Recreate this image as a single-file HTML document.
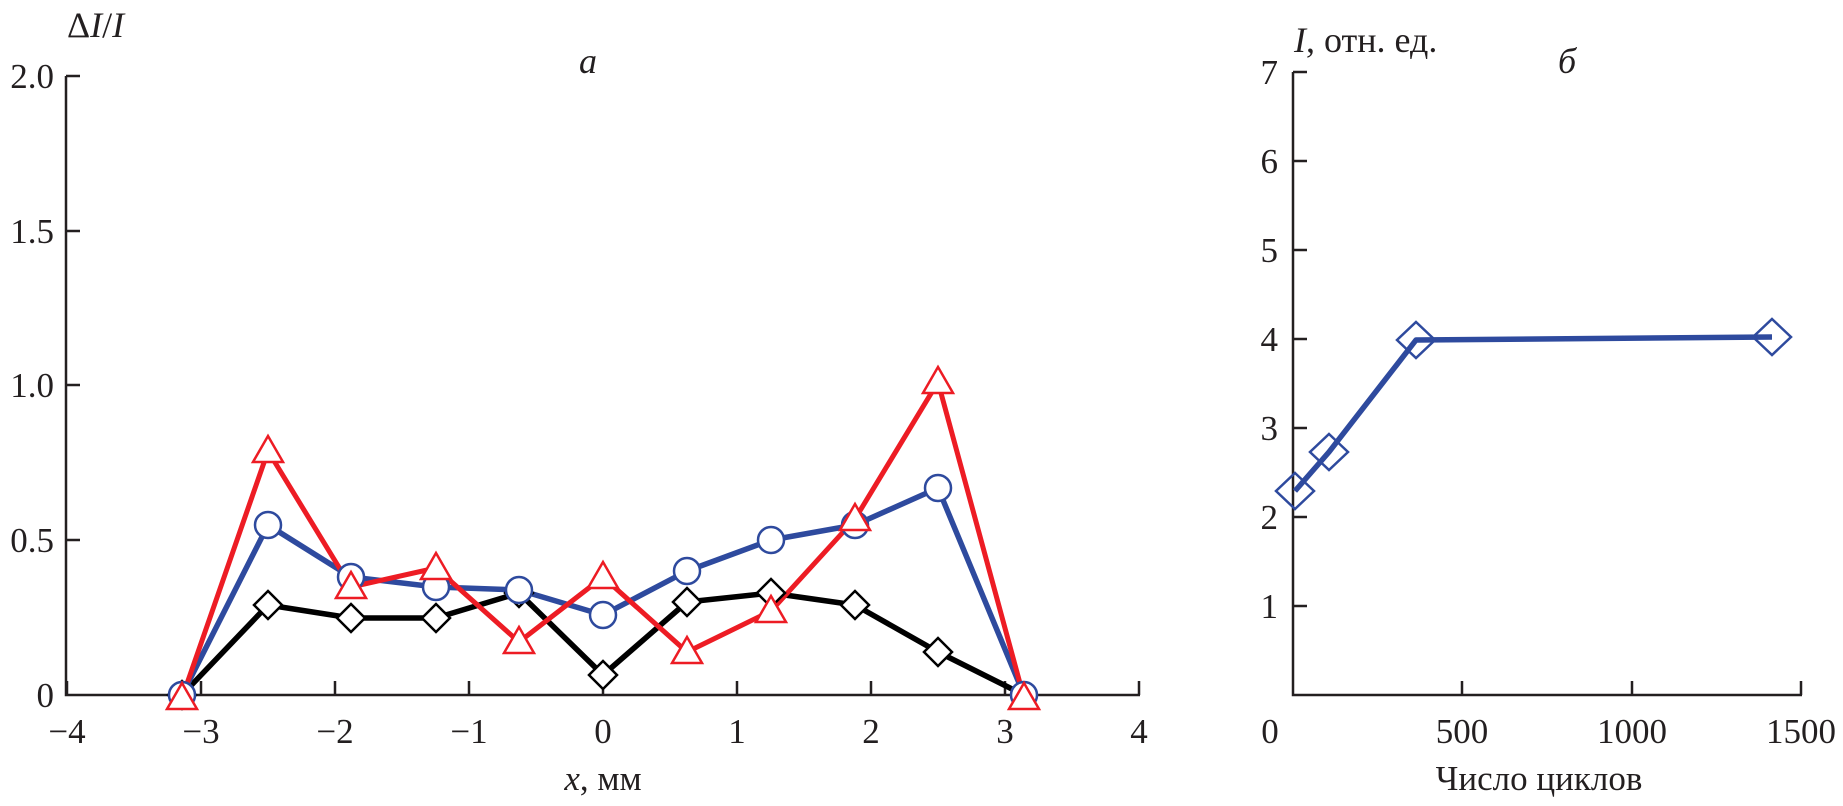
<!DOCTYPE html>
<html><head><meta charset="utf-8"><style>
html,body{margin:0;padding:0;background:#fff;}
svg{display:block;}
text{font-family:"Liberation Serif","Times New Roman",serif;fill:#231f20;}
</style></head><body>
<svg width="1843" height="806" viewBox="0 0 1843 806" xmlns="http://www.w3.org/2000/svg">
<g stroke="#231f20" stroke-width="2.5" fill="none">
<path d="M66,76 V695 H1140"/>
<path d="M66,76 H80 M66,231 H80 M66,385 H80 M66,540 H80"/>
<path d="M67,695 V681 M201,695 V681 M335,695 V681 M469,695 V681 M603,695 V681 M737,695 V681 M871,695 V681 M1005,695 V681 M1139,695 V681"/>
<path d="M1293,72 V695 H1802"/>
<path d="M1293,72 H1307 M1293,161 H1307 M1293,250 H1307 M1293,339 H1307 M1293,428 H1307 M1293,517 H1307 M1293,606 H1307"/>
<path d="M1462,695 V681 M1632,695 V681 M1801,695 V681"/>
</g>
<g font-size="35" text-anchor="end">
<text x="54" y="88">2.0</text>
<text x="54" y="243">1.5</text>
<text x="54" y="397">1.0</text>
<text x="54" y="552">0.5</text>
<text x="54" y="707">0</text>
<text x="1278" y="84">7</text>
<text x="1278" y="173">6</text>
<text x="1278" y="262">5</text>
<text x="1278" y="351">4</text>
<text x="1278" y="440">3</text>
<text x="1278" y="529">2</text>
<text x="1278" y="618">1</text>
</g>
<g font-size="35" text-anchor="middle">
<text x="67" y="743">−4</text>
<text x="201" y="743">−3</text>
<text x="335" y="743">−2</text>
<text x="469" y="743">−1</text>
<text x="603" y="743">0</text>
<text x="737" y="743">1</text>
<text x="871" y="743">2</text>
<text x="1005" y="743">3</text>
<text x="1139" y="743">4</text>
<text x="1270" y="743">0</text>
<text x="1462" y="743">500</text>
<text x="1632" y="743">1000</text>
<text x="1801" y="743">1500</text>
</g>
<text x="67" y="37" font-size="36">Δ<tspan font-style="italic">I</tspan>/<tspan font-style="italic">I</tspan></text>
<text x="588" y="73" font-size="36" font-style="italic" text-anchor="middle">a</text>
<text x="603" y="790" font-size="35" text-anchor="middle"><tspan font-style="italic">x</tspan>, мм</text>
<text x="1294" y="52" font-size="36"><tspan font-style="italic">I</tspan>, отн. ед.</text>
<text x="1567" y="73" font-size="36" font-style="italic" text-anchor="middle">б</text>
<text x="1539" y="790" font-size="35" text-anchor="middle">Число циклов</text>

<polyline fill="none" stroke="#000" stroke-width="5.5" stroke-linejoin="round" points="182,695 268,605 351,618 436,618 519,593 603,675 687,602 771,593 855,605 938,652 1024,695"/>
<polyline fill="none" stroke="#2e4a9e" stroke-width="5.5" stroke-linejoin="round" points="182,695 268,525 351,577 436,587 519,590 603,615 687,571 771,540 855,525 938,488 1024,695"/>
<polyline fill="none" stroke="#ed1c24" stroke-width="5" stroke-linejoin="round" points="182,698 268,451 351,587 436,568 519,642 603,577 687,652 771,611 855,519 938,382 1024,698"/>
<g fill="#fff" stroke="#000" stroke-width="2.5">
<path d="M182,681 l14,14 l-14,14 l-14,-14z"/>
<path d="M268,591 l14,14 l-14,14 l-14,-14z"/>
<path d="M351,604 l14,14 l-14,14 l-14,-14z"/>
<path d="M436,604 l14,14 l-14,14 l-14,-14z"/>
<path d="M519,579 l14,14 l-14,14 l-14,-14z"/>
<path d="M603,661 l14,14 l-14,14 l-14,-14z"/>
<path d="M687,588 l14,14 l-14,14 l-14,-14z"/>
<path d="M771,579 l14,14 l-14,14 l-14,-14z"/>
<path d="M855,591 l14,14 l-14,14 l-14,-14z"/>
<path d="M938,638 l14,14 l-14,14 l-14,-14z"/>
</g>
<g fill="#fff" stroke="#2e4a9e" stroke-width="2.5">
<circle cx="182" cy="695" r="13"/><circle cx="268" cy="525" r="13"/><circle cx="351" cy="577" r="13"/>
<circle cx="436" cy="587" r="13"/><circle cx="519" cy="590" r="13"/><circle cx="603" cy="615" r="13"/>
<circle cx="687" cy="571" r="13"/><circle cx="771" cy="540" r="13"/><circle cx="855" cy="525" r="13"/>
<circle cx="938" cy="488" r="13"/><circle cx="1024" cy="695" r="13"/>
</g>
<g fill="#fff" stroke="#ed1c24" stroke-width="2.5">
<path d="M182,683 l15,26 h-30z"/>
<path d="M268,436 l15,26 h-30z"/>
<path d="M351,572 l15,26 h-30z"/>
<path d="M436,553 l15,26 h-30z"/>
<path d="M519,627 l15,26 h-30z"/>
<path d="M603,562 l15,26 h-30z"/>
<path d="M687,637 l15,26 h-30z"/>
<path d="M771,596 l15,26 h-30z"/>
<path d="M855,504 l15,26 h-30z"/>
<path d="M938,367 l15,26 h-30z"/>
<path d="M1024,683 l15,26 h-30z"/>
</g>
<polyline fill="none" stroke="#2e4a9e" stroke-width="5.5" stroke-linejoin="round" points="1295,491 1329,452 1416,340 1772,337"/>
<g fill="none" stroke="#2e4a9e" stroke-width="2.5">
<path d="M1295,473 l19,18 l-19,18 l-19,-18z"/>
<path d="M1329,434 l19,18 l-19,18 l-19,-18z"/>
<path d="M1416,322 l19,18 l-19,18 l-19,-18z"/>
<path d="M1772,319 l19,18 l-19,18 l-19,-18z"/>
</g>
</svg>
</body></html>
